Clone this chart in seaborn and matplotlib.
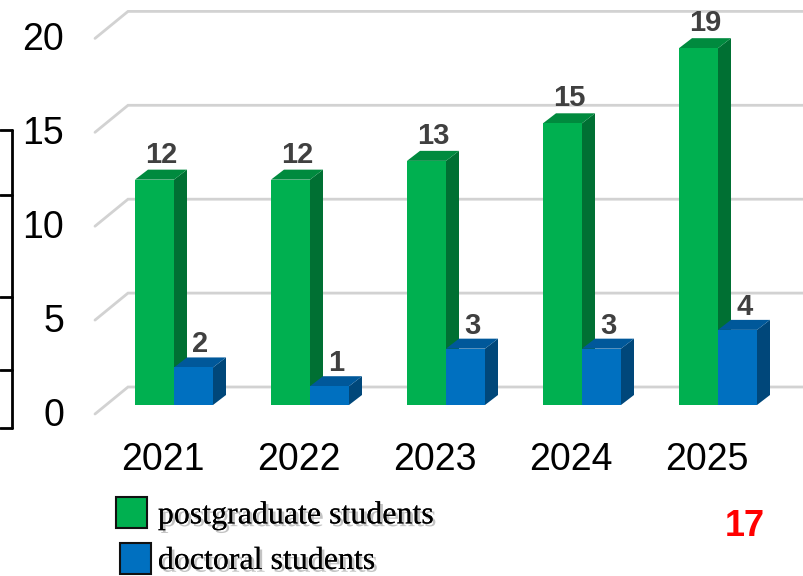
import matplotlib
matplotlib.use("Agg")
import matplotlib.pyplot as plt
import matplotlib.patheffects as pe
from matplotlib.patches import Polygon, Patch
import pandas as pd
import seaborn as sns

years = ["2021", "2022", "2023", "2024", "2025"]
postgraduate = [12, 12, 13, 15, 19]
doctoral = [2, 1, 3, 3, 4]
y_ticks = [0, 5, 10, 15, 20]
series_names = ["postgraduate students", "doctoral students"]
front_colors = ["#00B050", "#0070C0"]
side_colors = ["#007033", "#00477A"]
top_colors = ["#008A3E", "#00589A"]
side_note = "17"

W, H = 804, 576
PX_X0, PX_UNIT_X = 174.0, 136.0   # pixel of first category, pixels per category
PX_Y0, PX_UNIT_Y = 405.0, 18.78   # pixel of value 0, pixels per value unit
DX, DY = 13 / PX_UNIT_X, 10 / PX_UNIT_Y  # 3-D extrusion in data units

sns.set_theme(style="white")
plt.rcParams["font.family"] = ["Liberation Sans", "DejaVu Sans"]

df = pd.DataFrame({
    "year": years * 2,
    "series": [series_names[0]] * 5 + [series_names[1]] * 5,
    "value": postgraduate + doctoral,
})

fig = plt.figure(figsize=(W / 100, H / 100), dpi=100)
ax = fig.add_axes([0, 0, 1, 1])
sns.barplot(data=df, x="year", y="value", hue="series", palette=front_colors,
            width=78 / 136, gap=0, dodge=True, saturation=1, legend=False,
            linewidth=0, ax=ax, zorder=3)
ax.set_xlim(-PX_X0 / PX_UNIT_X, (W - PX_X0) / PX_UNIT_X)
ax.set_ylim(-(H - PX_Y0) / PX_UNIT_Y, PX_Y0 / PX_UNIT_Y)
ax.axis("off")

# gridlines: back wall line plus the slanted floor-side stroke
grid_color = "#D2D2D2"
back_left = -(PX_X0 - 128) / PX_UNIT_X
front_left = -(PX_X0 - 95) / PX_UNIT_X
for t in y_ticks:
    back_y = t + 18 / PX_UNIT_Y
    front_y = t - 9 / PX_UNIT_Y
    ax.plot([front_left, back_left, ax.get_xlim()[1]], [front_y, back_y, back_y],
            color=grid_color, lw=2, zorder=1, solid_joinstyle="miter")
    ax.text(-(PX_X0 - 64) / PX_UNIT_X, t - 11 / PX_UNIT_Y, str(t), ha="right",
            va="center", fontsize=27, color="black")

# 3-D faces and value labels derived from each bar
values = postgraduate + doctoral
face_indices = [0] * 5 + [1] * 5
label_lift_px = [1, -1]
bars = [p for c in ax.containers for p in c]
for bar, val, s in zip(bars, values, face_indices):
    x0, x1 = bar.get_x(), bar.get_x() + bar.get_width()
    top = bar.get_height()
    ax.add_patch(Polygon([(x1, 0), (x1 + DX, DY), (x1 + DX, top + DY), (x1, top)],
                         closed=True, fc=side_colors[s], ec="none", zorder=3 + s * 2 + 1))
    ax.add_patch(Polygon([(x0, top), (x0 + DX, top + DY), (x1 + DX, top + DY), (x1, top)],
                         closed=True, fc=top_colors[s], ec="none", zorder=3 + s * 2 + 1))
    bar.set_zorder(3 + s * 2 + 2)
    ax.text((x0 + x1) / 2 + 7 / PX_UNIT_X, top + DY + label_lift_px[s] / PX_UNIT_Y, str(val),
            ha="center", va="bottom", fontsize=21, fontweight="bold", color="#404040", zorder=10)

# category labels
for i, y in enumerate(years):
    ax.text(i - 11.5 / PX_UNIT_X, -(460 - PX_Y0) / PX_UNIT_Y, y, ha="center", va="center",
            fontsize=27, color="black")

# bracket fragment at left edge
frag_x = -(PX_X0 - 12) / PX_UNIT_X
frag_rows = [130, 195, 297, 370, 428]
ax.plot([frag_x, frag_x], [(PX_Y0 - 130) / PX_UNIT_Y, (PX_Y0 - 428) / PX_UNIT_Y],
        color="black", lw=2, zorder=2)
for r in frag_rows:
    ax.plot([ax.get_xlim()[0], frag_x], [(PX_Y0 - r) / PX_UNIT_Y] * 2, color="black", lw=2, zorder=2)

# legend
handles = [Patch(fc=c, ec="#111111", lw=1.5) for c in front_colors]
leg = ax.legend(handles, series_names, loc="upper left",
                bbox_to_anchor=(116 / W, 1 - 497 / H), frameon=False, labelcolor="black",
                prop={"family": "Liberation Serif", "size": 23},
                handlelength=0.97, handleheight=1.12, handletextpad=0.34,
                labelspacing=0.38, borderpad=0, borderaxespad=0)
leg.legend_handles[1].set_x(leg.legend_handles[1].get_x() + 3)
for text in leg.get_texts():
    text.set_path_effects([pe.withSimplePatchShadow(offset=(2, -2), shadow_rgbFace="#888888", alpha=0.5),
                           pe.Normal()])

ax.text((745 - PX_X0) / PX_UNIT_X, (PX_Y0 - 526) / PX_UNIT_Y, side_note, ha="center", va="center",
        fontsize=26, fontweight="bold", color="#FF0000", zorder=10)

fig.savefig("out.png", dpi=100)
